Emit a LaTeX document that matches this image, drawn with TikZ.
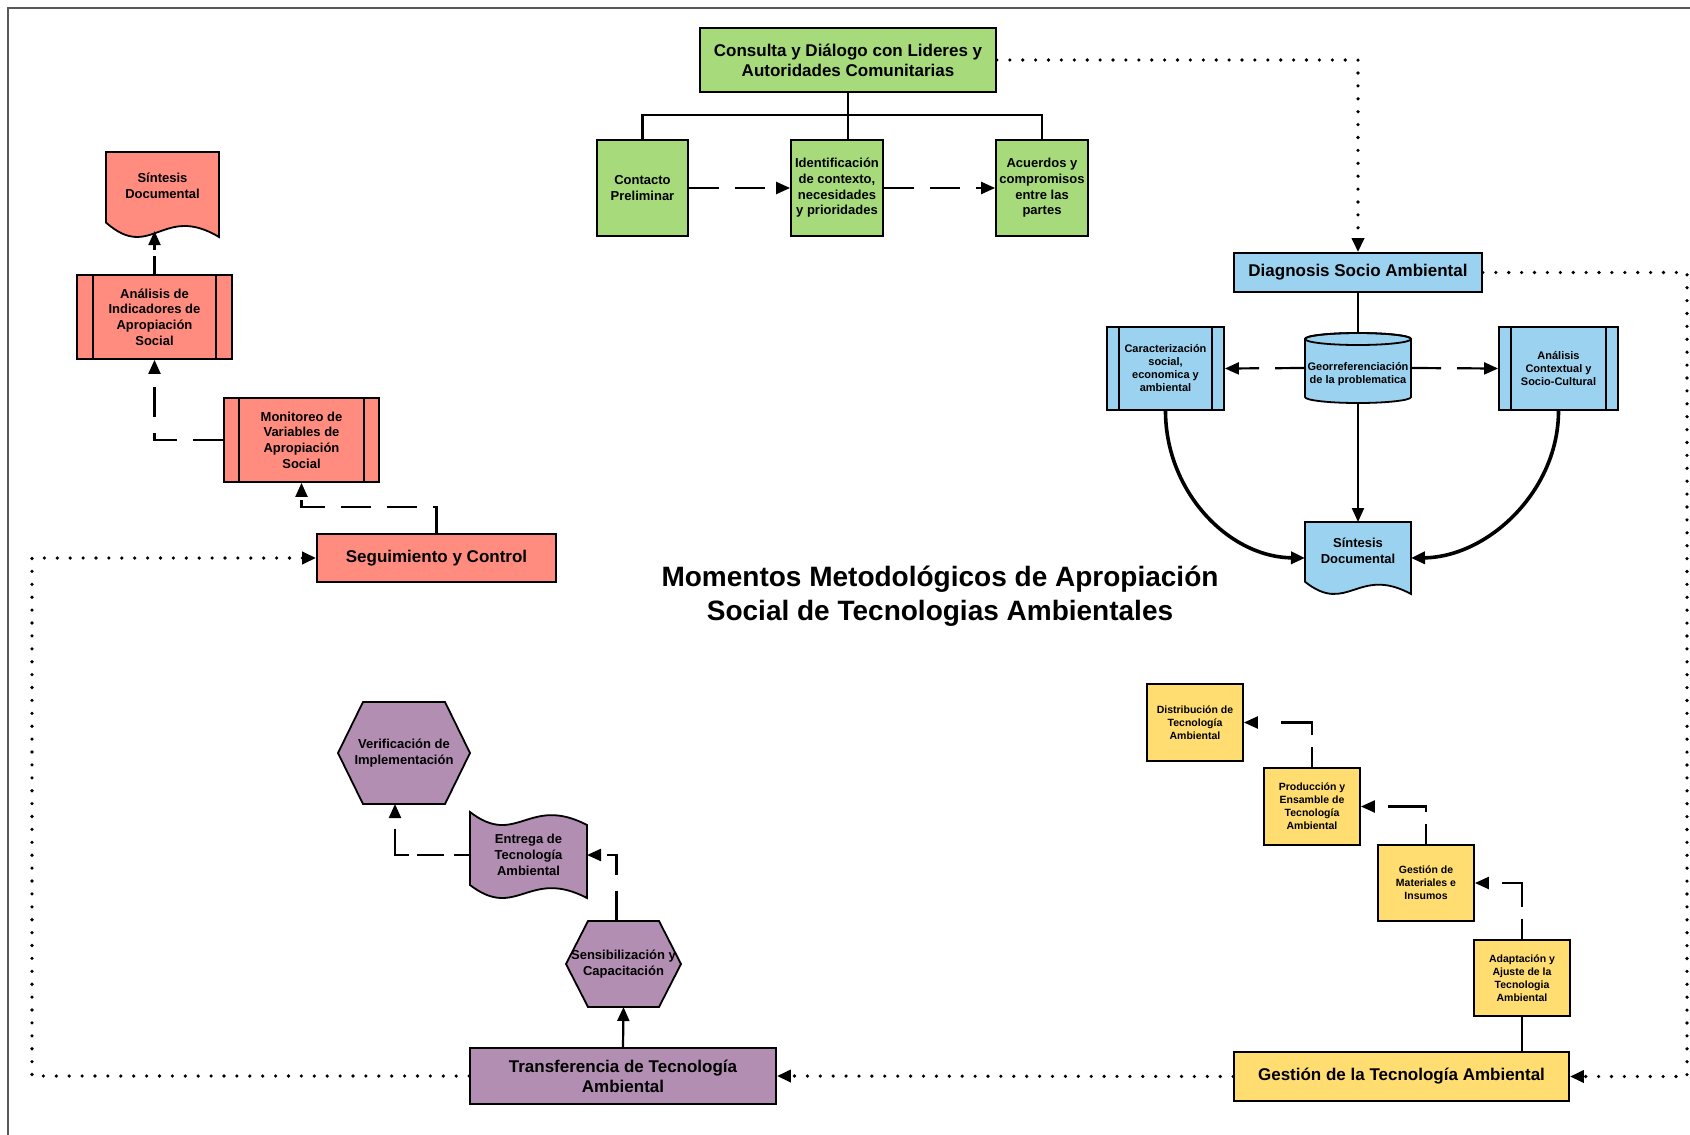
\documentclass[tikz,border=0pt]{standalone}
\usepackage{fontspec}
\setmainfont{Liberation Sans}
\usetikzlibrary{arrows.meta}

\definecolor{grn}{RGB}{166,218,122}
\definecolor{sal}{RGB}{255,140,126}
\definecolor{blu}{RGB}{155,210,240}
\definecolor{pur}{RGB}{178,142,178}
\definecolor{yel}{RGB}{255,221,113}

\tikzset{
  lw/.style={line width=1.8pt},
  txt/.style={align=center, text=black, inner sep=1pt},
  f17/.style={font=\bfseries\fontsize{17}{20}\selectfont},
  f13/.style={font=\bfseries\fontsize{13}{15.7}\selectfont},
  f11/.style={font=\bfseries\fontsize{11}{13}\selectfont},
  f105/.style={font=\bfseries\fontsize{10.5}{13}\selectfont},
  ttl/.style={font=\bfseries\fontsize{28}{34.5}\selectfont, align=center},
  conn/.style={line width=2.2pt},
  dashconn/.style={conn, dash pattern=on 30pt off 16pt},
  elbowdash/.style={conn, dash pattern=on 20pt off 12pt on 44pt off 100pt},
  dotconn/.style={line width=3.6pt, line cap=round, dash pattern=on 0pt off 12.9pt},
  tip/.style={-{Triangle[length=14pt,width=12pt]}},
  ghost/.style={inner sep=0pt, outer sep=0pt, align=center, text=black},
}

% plain box: name, left, top, right, bottom, colour, font style, text
\newcommand\rectbox[8]{%
  \node[draw=black, lw, fill=#6, txt, #7,
        minimum width={(#4-#2)*1pt}, minimum height={(#5-#3)*1pt}]
        (#1) at ({(#2+#4)/2},{(#3+#5)/2}) {#8};}

% predefined process: box with two inner side bars (#9 = bar inset)
\newcommand\procbox[9]{%
  \rectbox{#1}{#2}{#3}{#4}{#5}{#6}{#7}{#8}%
  \draw[lw] (#2+#9,#3) -- (#2+#9,#5) (#4-#9,#3) -- (#4-#9,#5);}

% document: wavy bottom edge
\newcommand\docbox[8]{%
  \filldraw[lw, fill=#6] (#2,#3) -- (#4,#3) -- (#4,#5)
    .. controls ({#2+0.5*(#4-#2)},{#5-0.4*(#5-#3)}) and ({#2+0.4*(#4-#2)},{#5+0.3*(#5-#3)})
    .. (#2,{#5-0.17*(#5-#3)}) -- cycle;
  \node[ghost, minimum width={(#4-#2)*1pt}, minimum height={(#5-#3)*1pt}]
        (#1) at ({(#2+#4)/2},{(#3+#5)/2}) {};
  \node[txt, #7] (#1-t) at ({(#2+#4)/2},{#3+0.4*(#5-#3)}) {#8};}

% flag / tape: wavy top and bottom edges
\newcommand\flagbox[8]{%
  \filldraw[lw, fill=#6] (#2,#3)
    .. controls ({#2+0.4*(#4-#2)},{#3+13+23}) and ({#2+0.5*(#4-#2)},{#3+13-30.5}) .. (#4,#3+13)
    -- (#4,#5)
    .. controls ({#2+0.5*(#4-#2)},{#5-30.5}) and ({#2+0.4*(#4-#2)},{#5+23}) .. (#2,#5-13) -- cycle;
  \node[ghost, #7, minimum width={(#4-#2)*1pt}, minimum height={(#5-#3)*1pt}]
        (#1) at ({(#2+#4)/2},{(#3+#5)/2}) {#8};}

% hexagon with pointed left and right ends (#9 = point depth)
\newcommand\hexbox[9]{%
  \filldraw[lw, fill=#6] (#2,{(#3+#5)/2}) -- (#2+#9,#3) -- (#4-#9,#3)
    -- (#4,{(#3+#5)/2}) -- (#4-#9,#5) -- (#2+#9,#5) -- cycle;
  \node[ghost, #7, minimum width={(#4-#2)*1pt}, minimum height={(#5-#3)*1pt}]
        (#1) at ({(#2+#4)/2},{(#3+#5)/2}) {#8};}

% database cylinder
\newcommand\cylbox[8]{%
  \filldraw[lw, fill=#6] (#2,#3+6) -- (#2,#5-6)
    arc[start angle=180, end angle=360, x radius={(#4-#2)/2*1pt}, y radius=6pt]
    -- (#4,#3+6)
    arc[start angle=0, end angle=180, x radius={(#4-#2)/2*1pt}, y radius=6pt] -- cycle;
  \draw[lw] ({(#2+#4)/2},#3+6) ellipse [x radius={(#4-#2)/2*1pt}, y radius=6pt];
  \node[ghost, minimum width={(#4-#2)*1pt}, minimum height={(#5-#3)*1pt}]
        (#1) at ({(#2+#4)/2},{(#3+#5)/2}) {};
  \node[ghost, #7] (#1-t) at ({(#2+#4)/2},{(#3+#5)/2+6}) {#8};}

\begin{document}
\begin{tikzpicture}[x=1pt, y=-1pt]
\useasboundingbox (0,0) rectangle (1690,1135);
\fill[white] (0,0) rectangle (1690,1135);

% page frame
\draw[line width=2pt, black!65] (7.5,1135) -- (7.5,7.5) -- (1690,7.5);

% ---------- consultation (green)
\rectbox{consulta}{700}{28}{996}{92}{grn}{f17}{Consulta y Diálogo con Lideres y\\Autoridades Comunitarias}
\rectbox{contacto}{597}{140}{688}{236}{grn}{f13}{Contacto\\Preliminar}
\rectbox{ident}{791}{140}{883}{236}{grn}{f13}{Identificación\\de contexto,\\necesidades\\y prioridades}
\rectbox{acuerdos}{996}{140}{1088}{236}{grn}{f13}{Acuerdos y\\compromisos\\entre las\\partes}

\coordinate (bus) at (848,115);
\draw[conn] (consulta.south) -- (bus);
\draw[conn] (contacto.north) |- (bus) -| (acuerdos.north);
\draw[conn] (bus) -- (bus |- ident.north);
\draw[dashconn, tip] (contacto.east) -- (ident.west);
\draw[dashconn, tip] (ident.east) -- (acuerdos.west);

% ---------- diagnosis (blue)
\rectbox{diag}{1234}{253}{1482}{292}{blu}{f17}{Diagnosis Socio Ambiental}
\procbox{carac}{1107}{327}{1224}{410}{blu}{f11}{Caracterización\\social,\\economica y\\ambiental}{12}
\cylbox{geo}{1305}{333}{1411}{403}{blu}{f11}{Georreferenciación\\de la problematica}
\procbox{analc}{1499}{327}{1618}{410}{blu}{f11}{Análisis\\Contextual y\\Socio-Cultural}{12}
\docbox{sintb}{1305}{522}{1411}{594}{blu}{f13}{Síntesis\\Documental}

\draw[conn] (diag.south) -- (geo.north);
\draw[dashconn, tip] (geo.west) -- (carac.east);
\draw[dashconn, tip] (geo.east) -- (analc.west);
\draw[conn, tip] (geo.south) -- (sintb.north);
\draw[line width=3.6pt, tip] (carac.south) .. controls (1165.5,491) and (1228,557) .. (sintb.west);
\draw[line width=3.6pt, tip] (analc.south) .. controls (1558.5,491) and (1488,557) .. (sintb.east);

% ---------- follow-up (red)
\docbox{sintr}{106}{152}{219}{237}{sal}{f13}{Síntesis\\Documental}
\procbox{analr}{77}{275}{232}{359}{sal}{f13}{Análisis de\\Indicadores de\\Apropiación\\Social}{16}
\procbox{moni}{224}{398}{379}{482}{sal}{f13}{Monitoreo de\\Variables de\\Apropiación\\Social}{15}
\rectbox{seg}{317}{534}{556}{582}{sal}{f17}{Seguimiento y Control}

\draw[conn, tip, dash pattern=on 18pt off 6pt] (analr.north) -- ++(0,-43) coordinate (sintr-in);
\draw[dashconn, tip] (moni.west) -| (analr.south);
\draw[dashconn, tip] (seg.north) -- ++(0,-26) -| (moni.south);

% ---------- transfer (purple)
\hexbox{verif}{338}{702}{470}{804}{pur}{f13}{Verificación de\\Implementación}{25}
\flagbox{ent}{470}{812}{587}{898}{pur}{f13}{Entrega de\\Tecnología\\Ambiental}
\hexbox{sens}{566}{921}{681}{1007}{pur}{f13}{Sensibilización y\\Capacitación}{22}
\rectbox{trans}{470}{1048}{776}{1104}{pur}{f17}{Transferencia de Tecnología\\Ambiental}

\draw[conn, tip] (trans.north) -- (sens.south);
\draw[dashconn, tip] ([xshift=-7pt]sens.north) |- (ent.east);
\draw[conn, tip, dash pattern=on 16pt off 10pt on 27pt off 8pt on 40pt off 100pt]
  (ent.west) -| ([xshift=-9pt]verif.south);

% ---------- technology management (yellow)
\rectbox{dist}{1147}{684}{1243}{761}{yel}{f105}{Distribución de\\Tecnología\\Ambiental}
\rectbox{prod}{1264}{768}{1360}{845}{yel}{f105}{Producción y\\Ensamble de\\Tecnología\\Ambiental}
\rectbox{gmat}{1378}{845}{1474}{921}{yel}{f105}{Gestión de\\Materiales e\\Insumos}
\rectbox{adapt}{1474}{940}{1570}{1016}{yel}{f105}{Adaptación y\\Ajuste de la\\Tecnologia\\Ambiental}
\rectbox{gest}{1234}{1052}{1569}{1101}{yel}{f17}{Gestión de la Tecnología Ambiental}

\draw[conn] (adapt.south) -- (adapt.south |- gest.north);
\draw[elbowdash, tip] (adapt.north) |- (gmat.east);
\draw[elbowdash, tip] (gmat.north) |- (prod.east);
\draw[elbowdash, tip] (prod.north) |- (dist.east);

% ---------- cycle between the stages (dotted)
\coordinate (rcol) at (1687,0);
\coordinate (lcol) at (32,0);
\draw[dotconn, tip] (consulta.east) -| (diag.north);
\draw[dotconn, tip] (diag.east) -- (diag.east -| rcol) |- (gest.east);
\draw[dotconn, tip] (gest.west) -- (trans.east);
\draw[dotconn, tip] (trans.west) -- (trans.west -| lcol) |- (seg.west);

% ---------- title
\node[ttl] (title) at (940,596) {Momentos Metodológicos de Apropiación\\Social de Tecnologias Ambientales};
\end{tikzpicture}
\end{document}
